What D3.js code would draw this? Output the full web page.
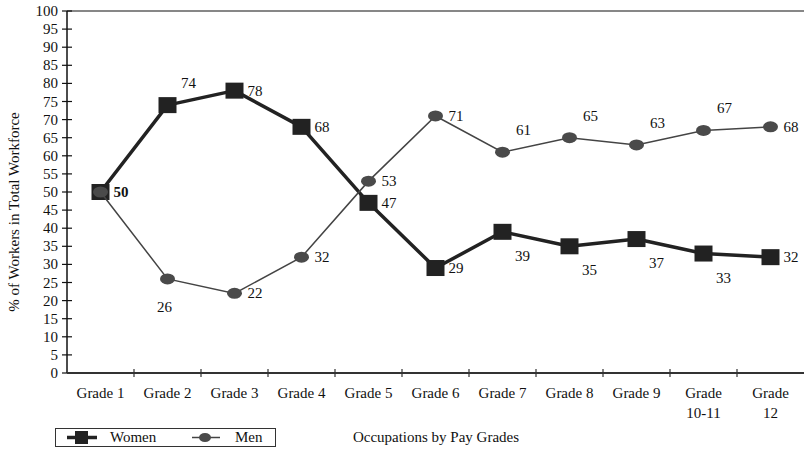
<!DOCTYPE html>
<html>
<head>
<meta charset="utf-8">
<script src="https://cdn.jsdelivr.net/npm/d3@7"></script>
<style>
  html, body { margin: 0; padding: 0; background: #fff; }
  svg text { font-family: "Liberation Serif", "DejaVu Serif", serif; fill: #111; }
</style>
</head>
<body>
<svg id="chart" width="805" height="449"></svg>
<script>
// Share of women and men in each pay grade
const grades = ["Grade 1", "Grade 2", "Grade 3", "Grade 4", "Grade 5", "Grade 6",
                "Grade 7", "Grade 8", "Grade 9", "Grade 10-11", "Grade 12"];
const women = [50, 74, 78, 68, 47, 29, 39, 35, 37, 33, 32];
const men   = [50, 26, 22, 32, 53, 71, 61, 65, 63, 67, 68];
const yTicks = d3.range(0, 101, 5);

const svg = d3.select("#chart");
const plot = { left: 67, right: 804, top: 11, bottom: 373 };
const fs = 15;

const x = d3.scaleBand().domain(grades).range([plot.left, plot.right]);
const y = d3.scaleLinear().domain([0, 100]).range([plot.bottom, plot.top]);
const cx = g => x(g) + x.bandwidth() / 2;

// Value label placement for each point: direction from the marker
const womenLabelAt = ["right", "upright", "right", "right", "right", "right",
                      "downright", "downright", "downright", "downright", "right"];
const menLabelAt   = ["right", "below", "right", "right", "right", "right",
                      "upright", "upright", "upright", "upright", "right"];
const offsets = {
  right:     { dx: 13, dy: 5, anchor: "start" },
  upright:   { dx: 21, dy: -17, anchor: "middle" },
  downright: { dx: 20, dy: 29, anchor: "middle" },
  below:     { dx: -3, dy: 33, anchor: "middle" }
};

// Y axis
const yAxis = svg.append("g").attr("transform", `translate(${plot.left},0)`);
yAxis.append("line").attr("x1", 0).attr("x2", 0).attr("y1", plot.top).attr("y2", plot.bottom)
  .attr("stroke", "#111").attr("stroke-width", 1.5);
yAxis.selectAll("line.tick").data(yTicks).join("line").attr("class", "tick")
  .attr("x1", -5).attr("x2", 5).attr("y1", d => y(d)).attr("y2", d => y(d))
  .attr("stroke", "#111").attr("stroke-width", 1.2);
yAxis.selectAll("text").data(yTicks).join("text")
  .attr("x", -9).attr("y", d => y(d) + 5).attr("text-anchor", "end")
  .attr("font-size", fs).text(d => d);

// Top border of the plot
svg.append("line").attr("x1", plot.left).attr("x2", plot.right)
  .attr("y1", plot.top).attr("y2", plot.top).attr("stroke", "#111").attr("stroke-width", 1.2);

// X axis
const xAxis = svg.append("g");
xAxis.append("line").attr("x1", plot.left).attr("x2", plot.right)
  .attr("y1", plot.bottom).attr("y2", plot.bottom).attr("stroke", "#333").attr("stroke-width", 2);
const bounds = grades.slice(1).map(g => x(g));
xAxis.selectAll("line.tick").data(bounds).join("line").attr("class", "tick")
  .attr("x1", d => d).attr("x2", d => d).attr("y1", plot.bottom - 4).attr("y2", plot.bottom + 4)
  .attr("stroke", "#333").attr("stroke-width", 1.2);
xAxis.selectAll("text").data(grades).join("text")
  .attr("x", g => cx(g)).attr("y", 398).attr("text-anchor", "middle").attr("font-size", fs)
  .each(function (g) {
    const m = g.match(/^Grade (\d+-\d+|\d{2})$/);
    const t = d3.select(this);
    if (m) {
      t.append("tspan").attr("x", cx(g)).text("Grade");
      t.append("tspan").attr("x", cx(g)).attr("dy", 20).text(m[1]);
    } else {
      t.text(g);
    }
  });

// Axis titles
svg.append("text").attr("transform", `translate(19,212) rotate(-90)`)
  .attr("text-anchor", "middle").attr("font-size", fs).text("% of  Workers in Total Workforce");
svg.append("text").attr("x", 436).attr("y", 442).attr("text-anchor", "middle")
  .attr("font-size", fs).text("Occupations by Pay Grades");

const line = d3.line().x((d, i) => cx(grades[i])).y(d => y(d));

// Women series
svg.append("path").datum(women).attr("d", line).attr("fill", "none")
  .attr("stroke", "#222").attr("stroke-width", 3.5).attr("stroke-linejoin", "round");
svg.selectAll("rect.women").data(women).join("rect").attr("class", "women")
  .attr("x", (d, i) => cx(grades[i]) - 9).attr("y", d => y(d) - 8)
  .attr("width", 18).attr("height", 16).attr("fill", "#222");

// Men series
svg.append("path").datum(men).attr("d", line).attr("fill", "none")
  .attr("stroke", "#444").attr("stroke-width", 1.5);
svg.selectAll("ellipse.men").data(men).join("ellipse").attr("class", "men")
  .attr("cx", (d, i) => cx(grades[i])).attr("cy", d => y(d))
  .attr("rx", 7.5).attr("ry", 5.5).attr("fill", "#4a4a4a");

// Value labels
women.forEach((v, i) => {
  const o = offsets[womenLabelAt[i]];
  svg.append("text").attr("x", cx(grades[i]) + o.dx).attr("y", y(v) + o.dy)
    .attr("text-anchor", o.anchor).attr("font-size", fs)
    .attr("font-weight", i === 0 ? "bold" : null).text(v);
});
men.forEach((v, i) => {
  if (i === 0) return; // shares its label with the women point
  const o = offsets[menLabelAt[i]];
  svg.append("text").attr("x", cx(grades[i]) + o.dx).attr("y", y(v) + o.dy)
    .attr("text-anchor", o.anchor).attr("font-size", fs).text(v);
});

// Legend
const lg = svg.append("g");
lg.append("rect").attr("x", 55.5).attr("y", 428.5).attr("width", 220).attr("height", 18)
  .attr("fill", "#fff").attr("stroke", "#333").attr("stroke-width", 1);
lg.append("line").attr("x1", 67).attr("x2", 97).attr("y1", 437.5).attr("y2", 437.5)
  .attr("stroke", "#222").attr("stroke-width", 3.5);
lg.append("rect").attr("x", 75).attr("y", 431).attr("width", 13).attr("height", 13).attr("fill", "#222");
lg.append("text").attr("x", 110).attr("y", 442).attr("font-size", fs).text("Women");
lg.append("line").attr("x1", 192).attr("x2", 220).attr("y1", 437.5).attr("y2", 437.5)
  .attr("stroke", "#444").attr("stroke-width", 1.5);
lg.append("ellipse").attr("cx", 205).attr("cy", 437.5).attr("rx", 6).attr("ry", 4.5).attr("fill", "#4a4a4a");
lg.append("text").attr("x", 235).attr("y", 442).attr("font-size", fs).text("Men");
</script>
</body>
</html>
